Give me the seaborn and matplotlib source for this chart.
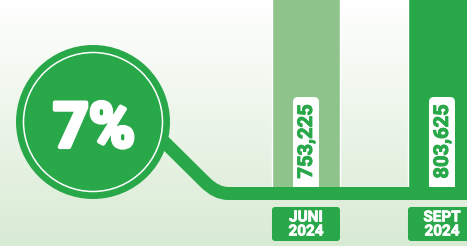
"""
Infografia: creixement del 7% entre juny i setembre 2024.
"""
import numpy as np
import matplotlib.pyplot as plt
import matplotlib.patheffects as pe
import seaborn as sns
from matplotlib.patches import Circle, FancyBboxPatch, PathPatch
from matplotlib.path import Path

# =========================
# DADES
# =========================
months = ["JUNI\n2024", "SEPT\n2024"]
values = [753225, 803625]
value_labels = ["753,225", "803,625"]
growth_label = "7%"

# =========================
# COLORS / ESTIL
# =========================
GREEN = "#29A84A"
LIGHT_GREEN = "#8EC48B"
bar_colors = [LIGHT_GREEN, GREEN]

sns.set_style("white")
plt.rcParams['font.family'] = ['Roboto', 'DejaVu Sans']

W, H = 467, 246
fig = plt.figure(figsize=(W / 100, H / 100), dpi=100)

# fons en degradat (blanc a dalt, verd clar a baix)
ax_bg = fig.add_axes([0, 0, 1, 1], zorder=0)
grad = np.linspace(0, 1, 256).reshape(-1, 1)
top = np.array([1.0, 1.0, 1.0])
bottom = np.array([0.85, 0.92, 0.83])
img = top + (bottom - top) * grad[..., None]
ax_bg.imshow(img, aspect="auto", extent=[0, 1, 0, 1])
ax_bg.set_axis_off()

# =========================
# BARRES (seaborn)
# =========================
ax = fig.add_axes([0, 0, 1, 1], zorder=1)
ax.set_facecolor("none")
sns.barplot(x=months, y=values, hue=months, palette=bar_colors,
            width=0.5, ax=ax, legend=False, saturation=1)
baseline_px = H - 193
scale = 650000 / (H - baseline_px)
ax.set_xlim(-2.25, 1.184)
ax.set_ylim(-baseline_px * scale, 650000)
ax.set_axis_off()

# =========================
# DECORACIÓ (coordenades en píxels)
# =========================
axp = fig.add_axes([0, 0, 1, 1], zorder=2)
axp.set_xlim(0, W)
axp.set_ylim(0, H)
axp.set_facecolor("none")
axp.set_axis_off()

fig.canvas.draw()
centers = [ax.transData.transform((i, 0))[0] for i in range(len(months))]

# caixes blanques amb el valor
for xc, lab in zip(centers, value_labels):
    box = FancyBboxPatch((xc - 13, baseline_px), 26, 149 - baseline_px,
                         boxstyle="round,pad=0,rounding_size=5",
                         fc="white", ec="none", zorder=1)
    axp.add_patch(box)
    axp.text(xc + 0.5, 104.5, lab, rotation=90, ha="center", va="center",
             color=GREEN, fontsize=14.5, fontweight="bold", zorder=2,
             path_effects=[pe.withStroke(linewidth=0.7, foreground=GREEN)])

# lupa: línia + mànec
verts = [(150, H - 127.8), (205, H - 182.2), (216.3, H - 193.5),
         (228, H - 193.5), (480, H - 193.5)]
codes = [Path.MOVETO, Path.LINETO, Path.CURVE3, Path.CURVE3, Path.LINETO]
axp.add_patch(PathPatch(Path(verts, codes), fc="none", ec=GREEN,
                        lw=13 * 0.72, capstyle="butt", zorder=3))

axp.add_patch(Circle((93, H - 122), 77, fc=GREEN, ec="none", zorder=4))
axp.add_patch(Circle((93, H - 122), 69.5, fc="none", ec="white",
                     lw=1.1, zorder=5))
axp.text(94, H - 147, growth_label, ha="center", va="baseline",
         color="white", fontsize=45, fontweight="bold", zorder=6,
         path_effects=[pe.withStroke(linewidth=3, foreground="white")])

# etiquetes dels mesos
for xc, m in zip(centers, months):
    box = FancyBboxPatch((xc - 34, H - 241), 68, 34,
                         boxstyle="round,pad=0,rounding_size=3",
                         fc=GREEN, ec="none", zorder=3)
    axp.add_patch(box)
    axp.text(xc, H - 224.5, m, ha="center", va="center", color="white",
             fontsize=11, fontweight="bold", linespacing=1.0, zorder=4,
             path_effects=[pe.withStroke(linewidth=0.5, foreground="white")])

fig.savefig("out.png", dpi=100)
